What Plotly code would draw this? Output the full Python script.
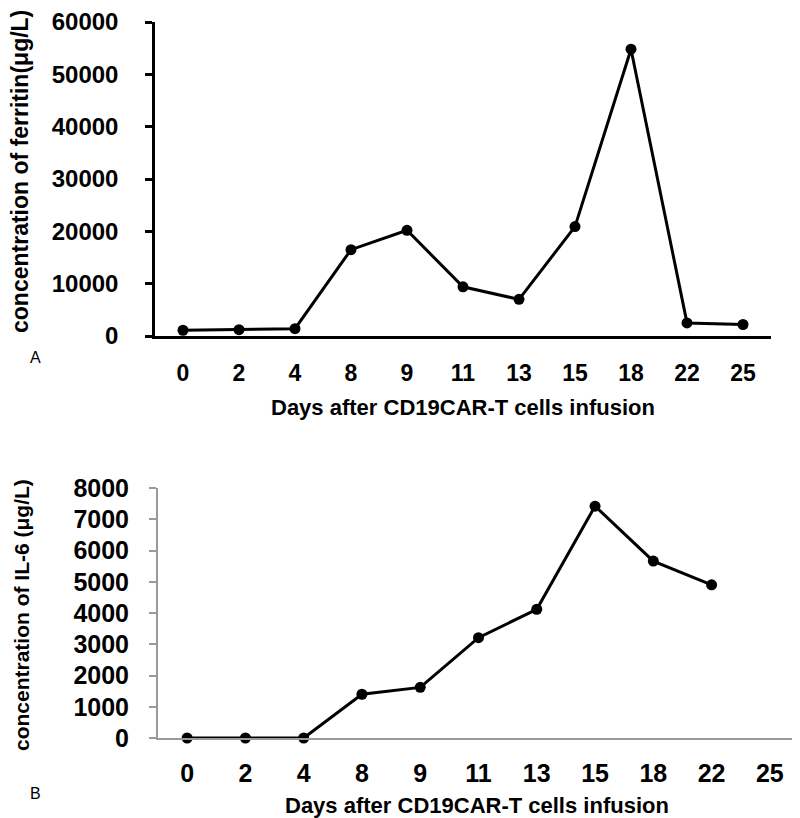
import plotly.graph_objects as go

days = ["0", "2", "4", "8", "9", "11", "13", "15", "18", "22", "25"]
ferritin = [1100, 1200, 1400, 16500, 20200, 9400, 7000, 20900, 54800, 2500, 2200]
il6_days = ["0", "2", "4", "8", "9", "11", "13", "15", "18", "22"]
il6 = [0, 0, 0, 1400, 1620, 3210, 4120, 7420, 5660, 4900]

W, H = 800, 818
OFF = 8  # page body margin
def fx(p):
    return min(max((p - OFF) / W, 0), 1)
def fy(p):
    return min(max(1 - (p - OFF) / H, 0), 1)

fig = go.Figure()
fig.add_trace(go.Scatter(x=days, y=ferritin, mode="lines+markers", xaxis="x", yaxis="y",
                         line=dict(color="black", width=3), marker=dict(color="black", size=11),
                         showlegend=False, cliponaxis=False))
fig.add_trace(go.Scatter(x=il6_days, y=il6, mode="lines+markers", xaxis="x2", yaxis="y2",
                         line=dict(color="black", width=3), marker=dict(color="black", size=11),
                         showlegend=False, cliponaxis=False))

fam = "Liberation Sans"
fig.update_layout(
    width=W, height=H, margin=dict(l=0, r=0, t=0, b=0, autoexpand=False),
    paper_bgcolor="white", plot_bgcolor="white",
    xaxis=dict(domain=[fx(155), fx(771)], anchor="y", type="category", categoryorder="array",
               categoryarray=days, range=[-0.5, 10.5], showline=True, linecolor="black", linewidth=2.5,
               ticks="", showgrid=False, zeroline=False, automargin=False,
               tickfont=dict(family=fam, size=23, color="black", weight="bold"), ticklabelstandoff=15),
    yaxis=dict(domain=[fy(336), fy(22)], anchor="x", range=[0, 60000], dtick=10000, tickformat="d",
               showline=True, linecolor="black", linewidth=2.5, ticks="outside", ticklen=7,
               tickwidth=2.5, tickcolor="black", showgrid=False, zeroline=False, automargin=False,
               ticklabeloverflow="allow",
               tickfont=dict(family=fam, size=24, color="black", weight="bold"), ticklabelstandoff=22),
    xaxis2=dict(domain=[fx(158), fx(799)], anchor="y2", type="category", categoryorder="array",
                categoryarray=days, range=[-0.5, 10.5], showline=True, linecolor="#9a9a9a", linewidth=2,
                ticks="", showgrid=False, zeroline=False, automargin=False,
                tickfont=dict(family=fam, size=25, color="black", weight="bold"), ticklabelstandoff=12),
    yaxis2=dict(domain=[fy(738), fy(488)], anchor="x2", range=[0, 8000], dtick=1000, tickformat="d",
                showline=True, linecolor="#9a9a9a", linewidth=2, ticks="outside", ticklen=7,
                tickwidth=2, tickcolor="#9a9a9a", showgrid=False, zeroline=False, automargin=False,
                ticklabeloverflow="allow",
                tickfont=dict(family=fam, size=25, color="black", weight="bold"), ticklabelstandoff=15),
)

ann = [
    dict(text="concentration of ferritin(μg/L)", x=fx(20), y=fy(172), textangle=-90,
         font=dict(family=fam, size=23, color="black", weight="bold")),
    dict(text="Days after CD19CAR-T cells infusion", x=fx(463), y=fy(407),
         font=dict(family=fam, size=22, color="black", weight="bold")),
    dict(text="concentration of IL-6 (μg/L)", x=fx(21), y=fy(615), textangle=-90,
         font=dict(family=fam, size=21, color="black", weight="bold")),
    dict(text="Days after CD19CAR-T cells infusion", x=fx(477), y=fy(805),
         font=dict(family=fam, size=22, color="black", weight="bold")),
    dict(text="A", x=fx(35), y=fy(357), font=dict(family=fam, size=16, color="black")),
    dict(text="B", x=fx(35), y=fy(793), font=dict(family=fam, size=16, color="black")),
]
for a in ann:
    a.update(xref="paper", yref="paper", showarrow=False, xanchor="center", yanchor="middle")
fig.update_layout(annotations=ann)

fig.write_html("out.html")
